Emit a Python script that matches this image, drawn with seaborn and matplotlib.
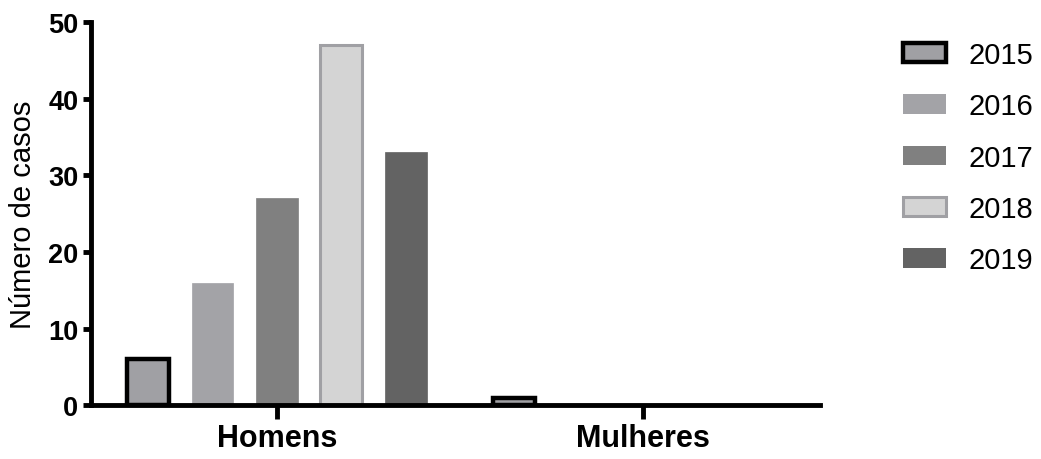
import pandas as pd
import matplotlib.pyplot as plt
import seaborn as sns
from matplotlib.patches import Patch

groups = ['Homens', 'Mulheres']
years = ['2015', '2016', '2017', '2018', '2019']
homens = [6, 16, 27, 47, 33]
mulheres = [1, 0, 0, 0, 0]

fills = ['#A0A0A4', '#A3A3A7', '#808080', '#D4D4D4', '#636363']
edges = ['#000000', '#A3A3A7', '#808080', '#A0A0A4', '#636363']
edge_w = [3.2, 0.5, 0.5, 2.2, 0.5]

rows = []
for g, vals in zip(groups, [homens, mulheres]):
    for y, v in zip(years, vals):
        rows.append({'Grupo': g, 'Ano': y, 'Casos': v})
df = pd.DataFrame(rows)

sns.set_style('ticks')
plt.rcParams['font.family'] = ['Liberation Sans', 'DejaVu Sans']

fig = plt.figure(figsize=(10.41, 4.6), dpi=100)
ax = fig.add_axes([0.0874, 0.117, 0.7, 0.833])

sns.barplot(data=df, x='Grupo', y='Casos', hue='Ano', hue_order=years,
            palette=fills, width=0.88, gap=0.35, saturation=1, ax=ax,
            legend=False)

for cont, ec, lw in zip(ax.containers, edges, edge_w):
    for bar in cont:
        bar.set_edgecolor(ec)
        bar.set_linewidth(lw)
        if bar.get_height() == 0:
            bar.set_visible(False)

ax.set_xlim(-0.508, 1.484)
ax.set_ylim(0, 50)
ax.set_yticks([0, 10, 20, 30, 40, 50])
ax.set_xlabel('')
ax.set_ylabel('Número de casos', fontsize=21, color='black', labelpad=8)
sns.despine(ax=ax)
for s in ['left', 'bottom']:
    ax.spines[s].set_linewidth(3.5)
    ax.spines[s].set_color('black')
ax.tick_params(axis='y', width=3.5, length=6, labelsize=19.5, colors='black', pad=3)
ax.tick_params(axis='x', width=3.5, length=10, labelsize=22, colors='black', pad=3)
for lab in ax.get_xticklabels() + ax.get_yticklabels():
    lab.set_fontweight('bold')

handles = [Patch(facecolor=f, edgecolor=e, linewidth=lw if lw > 1 else 0)
           for f, e, lw in zip(fills, edges, edge_w)]
fig.legend(handles, years, loc='upper left', bbox_to_anchor=(0.8425, 0.966),
           frameon=False, fontsize=21, handlelength=1.45, handleheight=0.65,
           labelspacing=0.8, handletextpad=0.8, labelcolor='black')

fig.savefig('out.png', dpi=100)
